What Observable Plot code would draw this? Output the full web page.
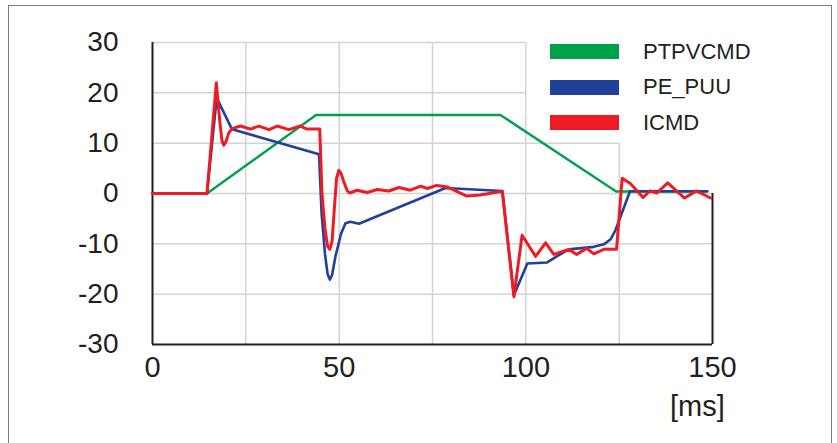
<!DOCTYPE html>
<html>
<head>
<meta charset="utf-8">
<script src="https://cdn.jsdelivr.net/npm/d3@7"></script>
<script src="https://cdn.jsdelivr.net/npm/@observablehq/plot@0.6"></script>
<style>
  html, body { margin: 0; padding: 0; background: #fff; }
  #wrap { position: relative; width: 837px; height: 443px; overflow: hidden; font-family: "Liberation Sans", Arial, sans-serif; color: #231f20; }
  #frame { position: absolute; left: 8px; top: 5px; width: 824px; height: 460px; border: 1.5px solid #7d7d7d; box-sizing: border-box; }
  #legend { position: absolute; left: 550px; top: 44px; }
  .row { display: flex; align-items: center; height: 15px; margin-bottom: 20.5px; }
  .sw { width: 69px; height: 15px; margin-right: 24px; }
  .lab { font-size: 22px; line-height: 1; }
  #unit { position: absolute; left: 670px; top: 392px; font-size: 29px; line-height: 1; }
  svg { position: absolute; left: 0; top: 0; }
</style>
</head>
<body>
<div id="wrap">
  <div id="frame"></div>
  <div id="chart"></div>
  <div id="legend"></div>
  <div id="unit">[ms]</div>
</div>
<script>
// ---- data ----
const seriesNames = ["PTPVCMD", "PE_PUU", "ICMD"];
const seriesColors = ["#00a14b", "#21409a", "#ed1c24"];

const ptpvcmdT = [0, 14.6, 43.8, 93.2, 124.2, 148.6];
const ptpvcmdV = [0, 0, 15.6, 15.6, 0.4, 0.4];

const peUuT = [0, 14.6, 17.2, 21.3, 44.6, 45.3, 46.2, 46.9, 47.5, 48.1, 49.0, 50.5, 51.7, 53.0, 55.3, 78.5, 93.7,
  96.8, 100.4, 105.7, 108.5, 111.5, 118.2, 120.9, 122.7, 124.0, 127.9, 148.6];
const peUuV = [0, 0, 19.0, 12.75, 7.8, -4, -12, -16, -17.1, -16.2, -12.5, -8, -5.9, -5.6, -6.0, 1.1, 0.5,
  -20.2, -13.9, -13.7, -12.4, -11.1, -10.6, -10.1, -9.1, -7.3, 0.45, 0.45];

const icmdT = [0, 14.6, 17.1, 18.0, 18.6, 19.1, 19.7, 20.4, 21.3, 23.6, 26.2, 28.5, 31.2, 33.4, 36.5, 39.6, 41.4, 44.8,
  45.4, 46.2, 46.9, 47.5, 48.1, 48.8, 49.3, 49.9, 50.5, 51.3, 52.2, 52.8, 54.8, 57.5, 60.2, 63.3, 66.0, 69.1, 71.8,
  73.6, 76.1, 78.9, 84.2, 87.8, 93.7, 96.8, 99.0, 102.6, 105.3, 107.5, 111.5, 113.6, 116.3, 118.2, 120.9, 124.0,
  124.3, 125.8, 128.0, 131.4, 133.2, 135.1, 138.0, 142.5, 145.7, 149.5];
const icmdV = [0, 0, 22.0, 14.5, 10.5, 9.6, 10.3, 12.0, 12.9, 13.4, 12.8, 13.4, 12.7, 13.4, 12.7, 13.4, 12.8, 12.8,
  0, -7, -10.5, -11.1, -9.5, -2, 3, 4.6, 4.0, 2.2, 0.5, 0.1, 0.65, 0.2, 0.8, 0.5, 1.2, 0.65, 1.45,
  1.0, 1.6, 1.3, -0.5, -0.3, 0.45, -20.5, -8.3, -12.5, -9.8, -12.1, -11.1, -12.1, -10.9, -12.0, -11.1, -11.1,
  -11.1, 3.0, 2.0, -0.8, 0.5, 0.1, 2.1, -0.9, 0.5, -0.9];

const xTicks = [0, 50, 100, 150];
const yTicks = [-30, -20, -10, 0, 10, 20, 30];
const gridXs = [25, 50, 75, 100, 125];
const gridXTop = [30, 30, 30, 30, 10];
const gridYs = [30, 20, 10, 0, -10, -20];
const gridYEnd = [100, 100, 125, 150, 150, 150];

// ---- build tables ----
const mk = (T, V, name) => T.map((t, i) => ({t, v: V[i], name}));
const green = mk(ptpvcmdT, ptpvcmdV, seriesNames[0]);
const blue = mk(peUuT, peUuV, seriesNames[1]);
const red = mk(icmdT, icmdV, seriesNames[2]);
const vGrid = gridXs.map((x, i) => ({x, top: gridXTop[i]}));
const hGrid = gridYs.map((y, i) => ({y, end: gridYEnd[i]}));

const gridColor = "#d3d3d3";
const axisColor = "#231f20";

const chart = Plot.plot({
  width: 837,
  height: 443,
  marginLeft: 152,
  marginRight: 125,
  marginTop: 42,
  marginBottom: 99,
  style: {fontFamily: '"Liberation Sans", Arial, sans-serif', color: axisColor, background: "transparent"},
  x: {domain: [0, 150]},
  y: {domain: [-30, 30]},
  marks: [
    Plot.ruleX(vGrid, {x: "x", y1: -30, y2: "top", stroke: gridColor, strokeWidth: 1.5}),
    Plot.ruleY(hGrid, {y: "y", x1: 0, x2: "end", stroke: gridColor, strokeWidth: 1.5}),
    Plot.ruleX([0], {y1: -30, y2: 30, stroke: axisColor, strokeWidth: 2}),
    Plot.ruleX([150], {y1: -30, y2: 0, stroke: axisColor, strokeWidth: 2}),
    Plot.ruleY([-30], {x1: 0, x2: 150, stroke: axisColor, strokeWidth: 2}),
    Plot.line(green, {x: "t", y: "v", stroke: seriesColors[0], strokeWidth: 2.4}),
    Plot.line(blue, {x: "t", y: "v", stroke: seriesColors[1], strokeWidth: 2.6}),
    Plot.line(red, {x: "t", y: "v", stroke: seriesColors[2], strokeWidth: 3}),
    Plot.axisX({ticks: xTicks, tickSize: 0, tickPadding: 12, fontSize: 29, tickFormat: d => String(d), label: null}),
    Plot.axisY({ticks: yTicks, tickSize: 0, tickPadding: 34, fontSize: 28, tickFormat: d => String(d), label: null})
  ]
});
document.getElementById("chart").appendChild(chart);

const legend = document.getElementById("legend");
seriesNames.forEach((n, i) => {
  const row = document.createElement("div");
  row.className = "row";
  const sw = document.createElement("div");
  sw.className = "sw";
  sw.style.background = seriesColors[i];
  const lab = document.createElement("div");
  lab.className = "lab";
  lab.textContent = n;
  row.appendChild(sw);
  row.appendChild(lab);
  legend.appendChild(row);
});
</script>
</body>
</html>
